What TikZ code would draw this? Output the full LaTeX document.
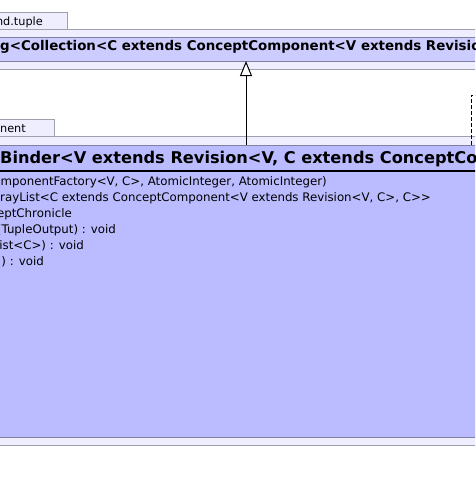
\documentclass[tikz,border=0pt]{standalone}
\usepackage{fontspec}
\setmainfont{DejaVu Sans}[Ligatures=TeXOff]
\usetikzlibrary{arrows.meta}

\definecolor{pkgfill}{RGB}{238,238,255}
\definecolor{pkgline}{RGB}{160,160,172}
\definecolor{hdrfill}{RGB}{204,204,255}
\definecolor{clsfill}{RGB}{187,187,255}
\definecolor{clsline}{RGB}{128,128,160}

\tikzset{
  pkgtab/.style={fill=pkgfill, draw=pkgline, line width=1pt, inner sep=0pt, outer sep=0pt, anchor=north west, minimum height=17pt},
  tabname/.style={inner sep=0pt, anchor=base east, font=\fontsize{11.3}{14}\selectfont},
  pkgbody/.style={fill=pkgfill, draw=pkgline, line width=1pt, inner sep=0pt, outer sep=0pt, anchor=north west, minimum width=520pt},
  classbox/.style={fill=#1, draw=clsline, line width=1pt, inner sep=0pt, outer sep=0pt, anchor=north west, minimum width=520pt},
  classname/.style={inner sep=0pt, anchor=base west, font=\fontsize{#1}{18}\selectfont\bfseries},
  member/.style={inner sep=0pt, anchor=base east, font=\fontsize{11.8}{14}\selectfont},
  extends/.style={-{Triangle[length=15pt, width=12pt, fill=white]}, line width=1pt},
  depends/.style={line width=1pt, dash pattern=on 4pt off 2pt}
}

\begin{document}
\begin{tikzpicture}[x=1pt, y=-1pt]
\clip (0,0) rectangle (475,483);
\fill[white] (0,0) rectangle (475,483);

\node[pkgtab, minimum width=87pt] (tupletab) at (-20,12) {};
\node[tabname] (tupletabname) at (43,25) {nd.tuple};
\node[pkgbody, minimum height=40pt] (tuplepkg) at (-20,29) {};
\node[classbox=hdrfill, minimum height=24pt] (binding) at (-20,37) {};
\node[classname=13.4] (bindingname) at (0,50.5) {g<Collection<C extends ConceptComponent<V extends Revision};

\node[pkgtab, minimum width=74pt] (comptab) at (-20,119) {};
\node[tabname] (comptabname) at (26,132) {nent};
\node[pkgbody, minimum height=309pt] (comppkg) at (-20,136) {};
\node[classbox=clsfill, minimum height=292pt] (binder) at (-20,145) {};
\coordinate (sep) at (0,171);
\draw[line width=1.6pt] (sep -| binder.west) -- (sep -| binder.east);
\node[classname=16.2] (bindername) at (0,163) {Binder<V extends Revision<V, C extends ConceptComponent};

\node[member] (ctor) at (327,185.5) {omponentFactory<V, C>, AtomicInteger, AtomicInteger)};
\node[member] (list) at (431,201.5) {rayList<C extends ConceptComponent<V extends Revision<V, C>, C>>};
\node[member] (chron) at (72,217.5) {eptChronicle};
\node[member] (write) at (116,233.5) {(TupleOutput) : void};
\node[member] (add) at (84,249.5) {ist<C>) : void};
\node[member] (reset) at (44,265.5) {) : void};

\coordinate (gen) at (246,61);
\draw[extends] (gen |- binder.north) -- (gen);

\coordinate (dep) at (471,95);
\coordinate (depend) at (480,95);
\draw[depends] (dep |- binder.north) -- (dep) -- (depend);
\end{tikzpicture}
\end{document}
